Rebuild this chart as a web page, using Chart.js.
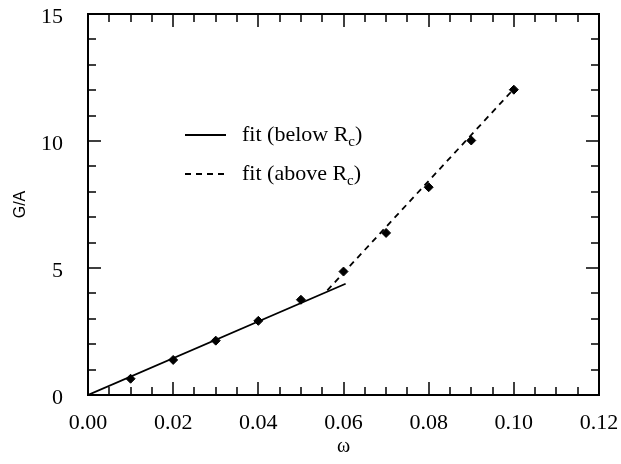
<!DOCTYPE html>
<html>
<head>
<meta charset="utf-8">
<script src="https://cdn.jsdelivr.net/npm/chart.js@4.4.0/dist/chart.umd.min.js"></script>
<style>
html, body { margin: 0; padding: 0; background: #fff; }
</style>
</head>
<body>
<canvas id="chart" width="621" height="464"></canvas>
<script>
// measured points
const omega  = [0.01, 0.02, 0.03, 0.04, 0.05, 0.06, 0.07, 0.08, 0.09, 0.10];
const gOverA = [0.64, 1.38, 2.14, 2.92, 3.75, 4.86, 6.38, 8.18, 10.02, 12.02];

// the two linear fits (end points)
const fitBelowX = [0, 0.0605];
const fitBelowY = [0, 4.38];
const fitAboveX = [0.0562, 0.10];
const fitAboveY = [4.12, 12.05];

const legendText = ['fit (below R', 'fit (above R'];
const legendSub = 'c';

const xTicks = [0, 0.02, 0.04, 0.06, 0.08, 0.10, 0.12];
const yTicks = [0, 5, 10, 15];

const serif = '"Liberation Serif", "DejaVu Serif", serif';
const sans = '"Liberation Sans", Arial, sans-serif';

function pts(xs, ys) {
  return xs.map((x, i) => ({ x: x, y: ys[i] }));
}

// inward ticks on all four sides, plus the frame
const frameTicks = {
  id: 'frameTicks',
  afterDatasetsDraw(chart) {
    const { ctx, chartArea: a, scales: { x, y } } = chart;
    ctx.save();
    ctx.strokeStyle = '#000';
    ctx.lineWidth = 2;
    ctx.strokeRect(a.left, a.top, a.right - a.left, a.bottom - a.top);
    ctx.lineWidth = 1.5;
    ctx.beginPath();
    for (let k = 0; k <= 24; k++) {
      const px = Math.round(x.getPixelForValue(k * 0.005));
      const len = k % 4 === 0 ? 13 : 8;
      ctx.moveTo(px, a.bottom); ctx.lineTo(px, a.bottom - len);
      ctx.moveTo(px, a.top); ctx.lineTo(px, a.top + len);
    }
    for (let k = 0; k <= 15; k++) {
      const py = Math.round(y.getPixelForValue(k));
      const len = k % 5 === 0 ? 13 : 8;
      ctx.moveTo(a.left, py); ctx.lineTo(a.left + len, py);
      ctx.moveTo(a.right, py); ctx.lineTo(a.right - len, py);
    }
    ctx.stroke();
    ctx.restore();
  }
};

// legend with subscript c
const subLegend = {
  id: 'subLegend',
  afterDraw(chart) {
    const { ctx, chartArea: a } = chart;
    const x0 = a.left + 97, y0 = a.top + 121, gap = 39;
    ctx.save();
    ctx.strokeStyle = '#000';
    ctx.fillStyle = '#000';
    ctx.lineWidth = 1.8;
    legendText.forEach((t, i) => {
      const yy = y0 + i * gap;
      ctx.setLineDash(i === 0 ? [] : [6, 5]);
      ctx.beginPath();
      ctx.moveTo(x0, yy); ctx.lineTo(x0 + 41, yy);
      ctx.stroke();
      ctx.setLineDash([]);
      ctx.textBaseline = 'middle';
      ctx.font = '22px ' + serif;
      let tx = x0 + 57;
      ctx.fillText(t, tx, yy);
      tx += ctx.measureText(t).width;
      ctx.font = '15px ' + serif;
      ctx.fillText(legendSub, tx, yy + 7);
      tx += ctx.measureText(legendSub).width;
      ctx.font = '22px ' + serif;
      ctx.fillText(')', tx, yy);
    });
    ctx.restore();
  }
};

new Chart(document.getElementById('chart'), {
  type: 'scatter',
  data: {
    datasets: [
      {
        label: 'fit (below Rc)',
        data: pts(fitBelowX, fitBelowY),
        showLine: true,
        borderColor: '#000',
        borderWidth: 1.8,
        pointRadius: 0
      },
      {
        label: 'fit (above Rc)',
        data: pts(fitAboveX, fitAboveY),
        showLine: true,
        borderColor: '#000',
        borderWidth: 1.8,
        borderDash: [6, 5],
        pointRadius: 0
      },
      {
        label: 'G/A',
        data: pts(omega, gOverA),
        pointStyle: 'rectRot',
        pointRadius: 4.5,
        backgroundColor: '#000',
        borderColor: '#000',
        borderWidth: 1
      }
    ]
  },
  options: {
    responsive: false,
    animation: false,
    layout: { padding: { top: 14, right: 22, bottom: 0, left: 0 } },
    plugins: { legend: { display: false }, tooltip: { enabled: false } },
    scales: {
      x: {
        type: 'linear',
        min: 0,
        max: 0.12,
        afterBuildTicks(s) { s.ticks = xTicks.map(v => ({ value: v })); },
        afterFit(s) {
          s.height = 69;
          s.paddingLeft = 0; s.paddingRight = 0;
        },
        grid: { display: false, drawTicks: false },
        border: { display: false },
        ticks: {
          color: '#000',
          padding: 15,
          maxRotation: 0,
          font: { family: serif, size: 22 },
          callback: v => v.toFixed(2)
        },
        title: {
          display: true,
          text: 'ω',
          color: '#000',
          font: { family: serif, size: 20 },
          padding: { top: 0, bottom: 5 }
        }
      },
      y: {
        type: 'linear',
        min: 0,
        max: 15,
        afterBuildTicks(s) { s.ticks = yTicks.map(v => ({ value: v })); },
        afterFit(s) {
          s.width = 88;
          s.paddingTop = 0; s.paddingBottom = 0;
        },
        grid: { display: false, drawTicks: false },
        border: { display: false },
        ticks: {
          color: '#000',
          padding: 25,
          labelOffset: 3,
          font: { family: serif, size: 22 }
        },
        title: {
          display: true,
          text: 'G/A',
          color: '#000',
          font: { family: sans, size: 16 },
          padding: { top: 11, bottom: 0 }
        }
      }
    }
  },
  plugins: [frameTicks, subLegend]
});
</script>
</body>
</html>
